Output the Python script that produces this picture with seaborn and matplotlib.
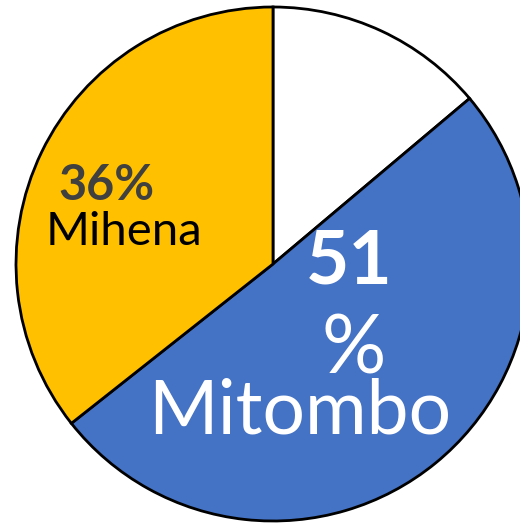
import matplotlib
matplotlib.use("Agg")
import matplotlib.pyplot as plt
import seaborn as sns

# --- data ---
categories = ["Other", "Mitombo", "Mihena"]
shares = [14, 51, 36]
slice_colors = ["#FFFFFF", "#4472C4", "#FFC000"]

sns.set_theme(style="white")
plt.rcParams["font.family"] = ["Lato", "DejaVu Sans"]

W, H = 520, 525
fig = plt.figure(figsize=(W / 100, H / 100), dpi=100)
ax = fig.add_axes([0, 0, 1, 1])


def py(y):
    # pixel row (from top) -> data y
    return H - y


ax.pie(shares, colors=slice_colors, startangle=90, counterclock=False,
       center=(273, py(264)), radius=257, frame=True,
       wedgeprops=dict(edgecolor="black", linewidth=2.0))
ax.set_xlim(0, W)
ax.set_ylim(0, H)
ax.set_aspect("auto")
ax.axis("off")

# Mihena label
ax.text(106, py(200), f"{shares[2]}%", ha="center", va="baseline",
        fontsize=35, fontweight="bold", color="#404040")
ax.text(124, py(245), categories[2], ha="center", va="baseline",
        fontsize=34, color="black")

# Mitombo label
ax.text(349, py(283), f"{shares[1]}", ha="center", va="baseline",
        fontsize=54, fontweight="bold", color="white")
ax.text(354, py(374), "%", ha="center", va="baseline",
        fontsize=58, color="white")
ax.text(300, py(433), categories[1], ha="center", va="baseline",
        fontsize=54, color="white")

fig.savefig("out.png", dpi=100)
